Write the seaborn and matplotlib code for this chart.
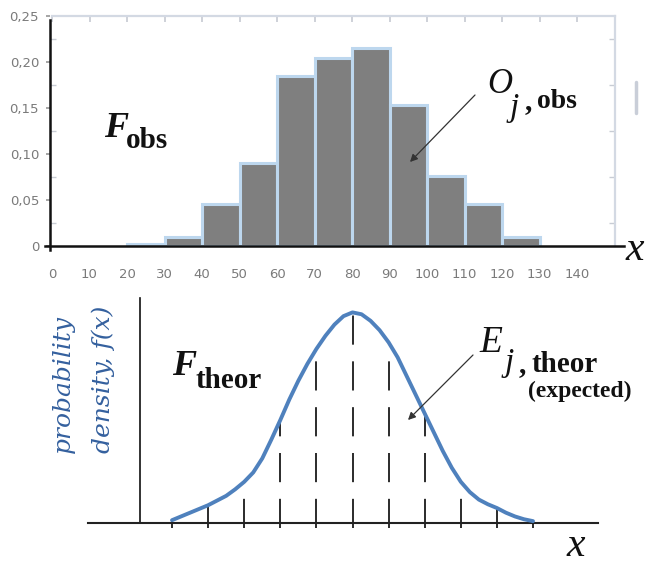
import numpy as np
import pandas as pd
import matplotlib
matplotlib.use("Agg")
import matplotlib.pyplot as plt
import seaborn as sns
from matplotlib.ticker import FuncFormatter, FixedLocator
from matplotlib.lines import Line2D

# ---------------- data ----------------
# observed relative frequencies per class (top panel)
bin_edges = [20, 30, 40, 50, 60, 70, 80, 90, 100, 110, 120, 130]
obs_freq = [0.002, 0.010, 0.046, 0.090, 0.185, 0.204, 0.215, 0.153, 0.076, 0.046, 0.010]
x_ticks = [0, 10, 20, 30, 40, 50, 60, 70, 80, 90, 100, 110, 120, 130, 140]
y_ticks = [0, 0.05, 0.10, 0.15, 0.20, 0.25]
y_tick_labels = ["0", "0,05", "0,10", "0,15", "0,20", "0,25"]

# theoretical probability density
curve_x = [30, 32.5, 35, 37.5, 40, 42.5, 45, 47.5, 50, 52.5, 55, 57.5, 60, 62.5,
           65, 67.5, 70, 72.5, 75, 77.5, 80, 82.5, 85, 87.5, 90, 92.5, 95, 97.5,
           100, 102.5, 105, 107.5, 110, 112.5, 115, 117.5, 120, 122.5, 125, 127.5, 130]
curve_density = [0.0003, 0.0007, 0.0011, 0.0015, 0.0019, 0.0024, 0.0029, 0.0036,
                 0.0044, 0.0054, 0.0069, 0.0089, 0.0110, 0.0132, 0.0152, 0.0170,
                 0.0186, 0.0200, 0.0212, 0.0221, 0.0225, 0.0223, 0.0216, 0.0206,
                 0.0193, 0.0177, 0.0157, 0.0137, 0.0117, 0.0097, 0.0077, 0.0059,
                 0.0044, 0.0033, 0.0025, 0.0020, 0.0016, 0.0011, 0.0007, 0.0004, 0.0002]
class_edges = [30, 40, 50, 60, 70, 80, 90, 100, 110, 120, 130]

# ---------------- style ----------------
sns.set_theme(style="white")
plt.rcParams["font.family"] = ["DejaVu Sans"]
plt.rcParams["lines.scale_dashes"] = False
SERIF = "Liberation Serif"

W, H = 647, 564
fig = plt.figure(figsize=(W / 100, H / 100), dpi=100)


def frame(x0, y0, x1, y1):
    return [x0 / W, 1 - y1 / H, (x1 - x0) / W, (y1 - y0) / H]


def ftext(x, y, s, **kw):
    kw.setdefault("va", "baseline")
    kw.setdefault("ha", "left")
    return fig.text(x / W, 1 - y / H, s, **kw)


# ---------------- top panel ----------------
ax1 = fig.add_axes(frame(52, 16, 614.5, 246))
edges = np.array(bin_edges, dtype=float)
mids = (edges[:-1] + edges[1:]) / 2
sns.histplot(x=mids, weights=obs_freq, bins=bin_edges, ax=ax1,
             color="#7f7f7f", edgecolor="#bdd7ee", linewidth=2.2, alpha=1)
ax1.set_xlim(0, 150)
ax1.set_ylim(0, 0.25)
ax1.set_xlabel("")
ax1.set_ylabel("")
ax1.xaxis.set_major_locator(FixedLocator(x_ticks))
ax1.yaxis.set_major_locator(FixedLocator(y_ticks))
ax1.set_yticklabels(y_tick_labels)
ax1.yaxis.set_minor_locator(FixedLocator([0.025, 0.075, 0.125, 0.175, 0.225]))
ax1.tick_params(axis="x", which="major", bottom=False, top=True, labelbottom=True,
                direction="in", length=4, color="#c8ccd4", pad=16,
                labelsize=9.5, labelcolor="#7a7a7a")
ax1.tick_params(axis="y", which="major", left=True, right=False, direction="out",
                length=3, color="#9a9a9a", pad=5, labelsize=9.5, labelcolor="#7a7a7a")
ax1.tick_params(axis="y", which="minor", left=True, right=True, direction="in",
                length=4, color="#c8ccd4", width=1)
for s in ("top", "right"):
    ax1.spines[s].set_color("#d3d9e3")
    ax1.spines[s].set_linewidth(1.6)
for s in ("left", "bottom"):
    ax1.spines[s].set_color("#111111")
    ax1.spines[s].set_linewidth(1.8)
    ax1.spines[s].set_zorder(5)
ax1.spines["bottom"].set_bounds(-1.9, 152.5)
ax1.spines["left"].set_bounds(-0.004, 0.2455)
ax1.spines["left"].set_position(("data", -0.5))

# annotations top
ftext(104, 137, "F", fontfamily=SERIF, fontsize=26, fontweight="bold", fontstyle="italic", color="#111111")
ftext(126, 148, "obs", fontfamily=SERIF, fontsize=21, fontweight="bold", color="#111111")
ftext(487, 93, "O", fontfamily=SERIF, fontsize=25, fontstyle="italic", color="#111111")
ftext(510, 116, "j", fontfamily=SERIF, fontsize=24, fontstyle="italic", color="#111111")
ftext(525, 109, ",", fontfamily=SERIF, fontsize=21, fontweight="bold", color="#111111")
ftext(537, 108, "obs", fontfamily=SERIF, fontsize=20, fontweight="bold", color="#111111")
ftext(626, 260, "x", fontfamily=SERIF, fontsize=30, fontstyle="italic", color="#111111")
fig.add_artist(Line2D([636 / W, 636 / W], [1 - 82 / H, 1 - 113 / H], transform=fig.transFigure,
                      color="#c9ced8", linewidth=2.5))
ax1.annotate("", xy=(410, H - 162), xytext=(475, H - 95), xycoords="figure pixels",
             textcoords="figure pixels",
             arrowprops=dict(arrowstyle="-|>", color="#333333", lw=0.9, mutation_scale=11,
                             shrinkA=0, shrinkB=0))

# ---------------- bottom panel ----------------
ax2 = fig.add_axes(frame(88, 290, 598, 530))
lookup = dict(zip(curve_x, curve_density))
tops = [lookup[e] for e in class_edges]
ax2.vlines(class_edges, -0.00055, tops, colors="#1a1a1a", linewidth=1.3,
           linestyles=[(0, (21, 12))], zorder=1)
sns.lineplot(x=curve_x, y=curve_density, ax=ax2, color="#4f81bd", linewidth=2.8,
             solid_capstyle="round", solid_joinstyle="round", zorder=3)
ax2.set_xlim(6.73, 148.0)
ax2.set_ylim(-0.000748, 0.024893)
ax2.set_xticks([])
ax2.set_yticks([])
ax2.set_xlabel("")
ax2.set_ylabel("")
ax2.spines["top"].set_visible(False)
ax2.spines["right"].set_visible(False)
ax2.spines["left"].set_position(("data", 21.1))
ax2.spines["left"].set_bounds(0, 0.0240)
ax2.spines["left"].set_color("#111111")
ax2.spines["left"].set_linewidth(1.2)
ax2.spines["bottom"].set_position(("data", 0))
ax2.spines["bottom"].set_color("#222222")
ax2.spines["bottom"].set_linewidth(1.5)

ftext(63, 453, "probability", fontfamily="DejaVu Serif", fontsize=18, fontstyle="italic",
      color="#34609e", rotation=90, ha="center", va="bottom")
ftext(103, 453, "density, f(x)", fontfamily="DejaVu Serif", fontsize=18, fontstyle="italic",
      color="#34609e", rotation=90, ha="center", va="bottom")

ftext(172, 375, "F", fontfamily=SERIF, fontsize=26, fontweight="bold", fontstyle="italic", color="#111111")
ftext(195, 388, "theor", fontfamily=SERIF, fontsize=21, fontweight="bold", color="#111111")
ftext(479, 352, "E", fontfamily=SERIF, fontsize=27, fontstyle="italic", color="#111111")
ftext(505, 371, "j", fontfamily=SERIF, fontsize=24, fontstyle="italic", color="#111111")
ftext(519, 372, ",", fontfamily=SERIF, fontsize=21, fontweight="bold", color="#111111")
ftext(531, 372, "theor", fontfamily=SERIF, fontsize=21, fontweight="bold", color="#111111")
ftext(528, 397, "(expected)", fontfamily=SERIF, fontsize=17, fontweight="bold", color="#111111")
ftext(567, 556, "x", fontfamily=SERIF, fontsize=30, fontstyle="italic", color="#111111")
ax2.annotate("", xy=(408, H - 420), xytext=(473, H - 355), xycoords="figure pixels",
             textcoords="figure pixels",
             arrowprops=dict(arrowstyle="-|>", color="#333333", lw=0.9, mutation_scale=11,
                             shrinkA=0, shrinkB=0))

fig.savefig("out.png", dpi=100)
